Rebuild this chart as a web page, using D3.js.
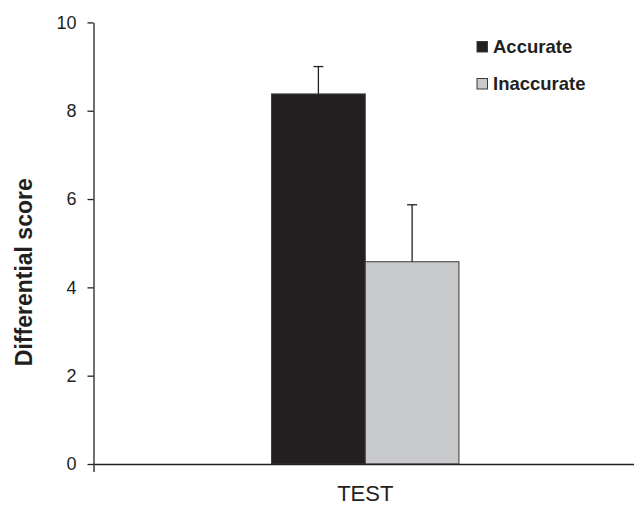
<!DOCTYPE html>
<html>
<head>
<meta charset="utf-8">
<script src="https://cdn.jsdelivr.net/npm/d3@7"></script>
<style>
    body { margin: 0; background: #fff; }
    text { font-family: "Liberation Sans", Arial, sans-serif; fill: #231f20; }
</style>
</head>
<body>
<script>
// chart data
var categories = ["TEST"];
var series = ["Accurate", "Inaccurate"];
var means = [8.38, 4.58];
var errors = [0.62, 1.29];
var yTicks = [0, 2, 4, 6, 8, 10];
var colors = ["#231f20", "#c8c9cb"];

drawChart();

function drawChart() {
    var width = 634,
        height = 506;

    var svg = d3.select("body")
        .append("svg")
        .attr("width", width)
        .attr("height", height);

    // plot area edges
    var plotLeft = 93.5, plotRight = 637, plotTop = 22.4, plotBottom = 464;

    var y = d3.scaleLinear()
        .domain([0, 10])
        .range([plotBottom, plotTop]);

    var x0 = d3.scaleBand()
        .domain(categories)
        .range([plotLeft, plotRight]);

    var x1 = d3.scaleBand()
        .domain(series)
        .range([0, x0.bandwidth()])
        .paddingOuter(1.9);

    var rows = series.map(function(s, i) {
        return { name: s, value: means[i], err: errors[i], color: colors[i] };
    });

    // bars
    var group = svg.append("g")
        .attr("transform", "translate(" + x0("TEST") + ",0)");

    group.selectAll(".bar")
        .data(rows)
        .enter()
        .append("rect")
        .attr("class", "bar")
        .attr("x", function(d) { return x1(d.name); })
        .attr("y", function(d) { return y(d.value); })
        .attr("width", x1.bandwidth())
        .attr("height", function(d) { return y(0) - y(d.value); })
        .style("fill", function(d) { return d.color; })
        .style("stroke", "#3a3a3a")
        .style("stroke-width", 1);

    // error bars (upper only)
    var errs = group.selectAll(".err")
        .data(rows)
        .enter()
        .append("g")
        .attr("class", "err")
        .style("stroke", "#231f20")
        .style("stroke-width", 1.3);

    errs.append("line")
        .attr("x1", function(d) { return x1(d.name) + x1.bandwidth() / 2; })
        .attr("x2", function(d) { return x1(d.name) + x1.bandwidth() / 2; })
        .attr("y1", function(d) { return y(d.value); })
        .attr("y2", function(d) { return y(d.value + d.err); });

    errs.append("line")
        .attr("x1", function(d) { return x1(d.name) + x1.bandwidth() / 2 - 5; })
        .attr("x2", function(d) { return x1(d.name) + x1.bandwidth() / 2 + 5; })
        .attr("y1", function(d) { return y(d.value + d.err); })
        .attr("y2", function(d) { return y(d.value + d.err); });

    // y axis
    var yAxis = svg.append("g")
        .attr("transform", "translate(" + plotLeft + ",0)")
        .call(d3.axisLeft(y).tickValues(yTicks).tickSize(6).tickSizeOuter(0).tickPadding(11));

    yAxis.select(".domain").style("stroke", "#231f20").style("stroke-width", 1.3);
    yAxis.selectAll(".tick line").style("stroke", "#231f20").style("stroke-width", 1.3);
    yAxis.selectAll(".tick text")
        .style("font-size", "18px")
        .style("font-family", "'Liberation Sans', Arial, sans-serif")
        .style("fill", "#231f20");

    // x axis
    var xAxis = svg.append("g")
        .attr("transform", "translate(0," + plotBottom + ")")
        .call(d3.axisBottom(x0).tickSize(0).tickSizeOuter(8).tickPadding(21));

    xAxis.select(".domain").style("stroke", "#231f20").style("stroke-width", 1.3);
    xAxis.selectAll(".tick text")
        .style("font-size", "22px")
        .style("font-family", "'Liberation Sans', Arial, sans-serif")
        .style("fill", "#231f20");

    // y axis title
    svg.append("text")
        .attr("transform", "translate(32," + ((plotTop + plotBottom) / 2 + 29) + ") rotate(-90)")
        .attr("text-anchor", "middle")
        .style("font-size", "23px")
        .style("font-weight", "bold")
        .text("Differential score");

    // legend
    var legend = svg.selectAll(".legend")
        .data(rows)
        .enter()
        .append("g")
        .attr("class", "legend")
        .attr("transform", function(d, i) { return "translate(477," + (41.5 + i * 37) + ")"; });

    legend.append("rect")
        .attr("width", 10.5)
        .attr("height", 10.5)
        .style("fill", function(d) { return d.color; })
        .style("stroke", "#3a3a3a")
        .style("stroke-width", 1);

    legend.append("text")
        .attr("x", 16)
        .attr("y", 11)
        .style("font-size", "18.5px")
        .style("font-weight", "bold")
        .text(function(d) { return d.name; });
}
</script>
</body>
</html>
